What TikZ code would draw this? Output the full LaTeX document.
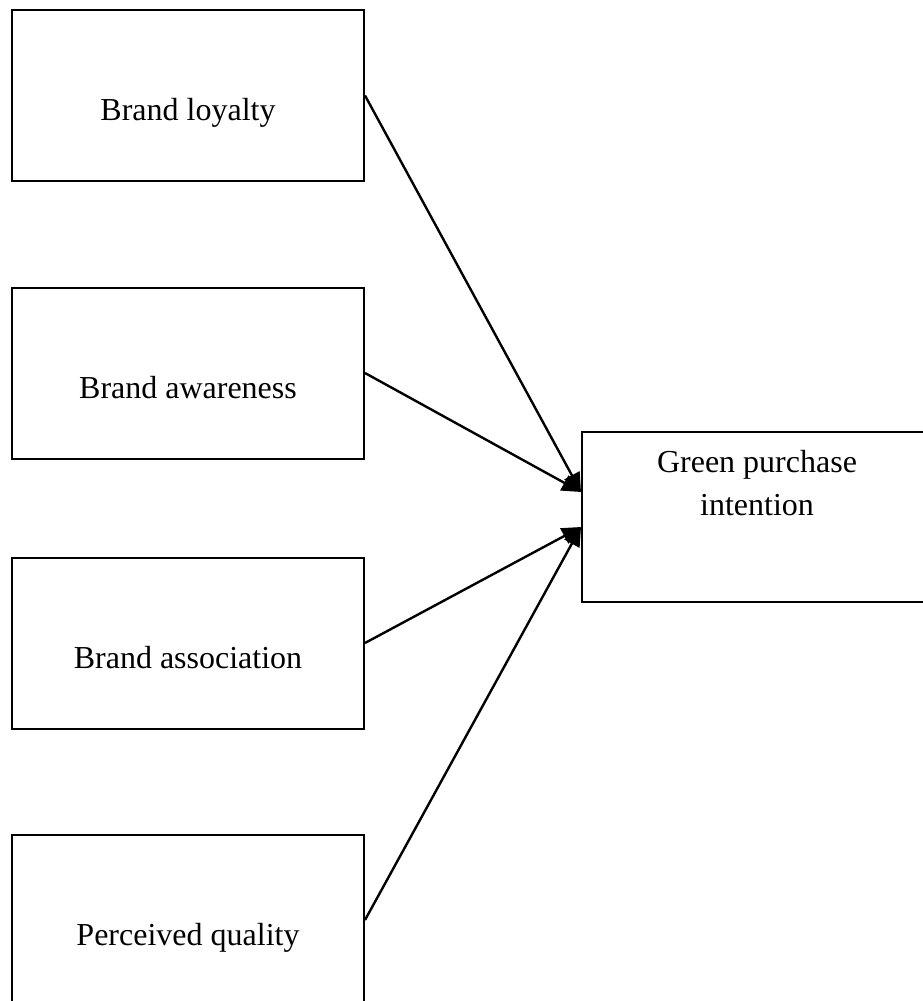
\documentclass[tikz,border=0pt]{standalone}
\usepackage{fontspec}
\setmainfont{Liberation Serif}
\usetikzlibrary{arrows.meta}
\begin{document}
\begin{tikzpicture}[x=1pt,y=-1pt,
  factor/.style={draw, line width=2pt, minimum width=352pt, minimum height=171pt, inner sep=0pt},
  outcome/.style={draw, line width=2pt, minimum width=348pt, minimum height=170pt, inner sep=0pt},
  caption/.style={anchor=base, font=\fontsize{32}{43}\selectfont, align=center, inner sep=0pt},
  link/.style={line width=2.4pt, -{Triangle[length=19pt,width=17pt]}}]
\useasboundingbox (0,0) rectangle (922,1001);
% four brand-equity dimensions on the left
\node[factor] (loyalty)   at (188,95.5) {};
\node[factor] (awareness) at (188,373) {};
\node[factor] (assoc)     at (188,643) {};
\node[factor] (quality)   at (188,920) {};
\node[caption] (tloyalty)   at (188,120) {Brand loyalty};
\node[caption] (tawareness) at (188,398) {Brand awareness};
\node[caption] (tassoc)     at (188,668) {Brand association};
\node[caption] (tquality)   at (188,945) {Perceived quality};
% outcome on the right
\node[outcome] (intent) at (756,517) {};
\node[caption] (tintent) at (757,472) {Green purchase};
\node[caption] (tintent2) at (757,515) {intention};
% paths
\draw[link] (loyalty.east)   -- ([yshift=25pt]intent.west);
\draw[link] (awareness.east) -- ([yshift=25pt]intent.west);
\draw[link] (assoc.east)     -- ([yshift=-10pt]intent.west);
\draw[link] (quality.east)   -- ([yshift=-10pt]intent.west);
\end{tikzpicture}
\end{document}
